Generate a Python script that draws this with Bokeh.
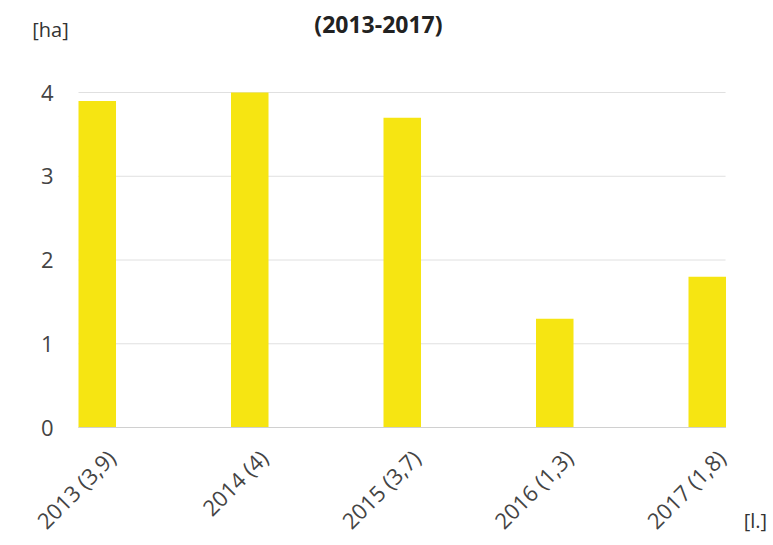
import math
from bokeh.plotting import figure
from bokeh.models import Range1d, FixedTicker, ColumnDataSource
from bokeh.core.properties import value
from bokeh.embed import file_html
from bokeh.resources import INLINE

years = [2013, 2014, 2015, 2016, 2017]
values = [3.9, 4.0, 3.7, 1.3, 1.8]
labels = [f"{y} ({('%g' % v).replace('.', ',')})" for y, v in zip(years, values)]
y_ticks = [0, 1, 2, 3, 4]
title_text = "(2013-2017)"
y_unit = "[ha]"
x_unit = "[l.]"

# plot area in data units: one category per unit, bars left-aligned in each slot
X_END = 4.243
Y_END = 4
BAR_W = 0.246
xs = [i + BAR_W / 2 for i in range(len(years))]
src = ColumnDataSource(dict(x=xs, top=values, label=labels))

W, H = 770, 543
PX_X, PX_Y = 152.5, 83.75      # pixels per data unit
LEFT, BOTTOM = 78, 427         # page position of the data origin

p = figure(frame_width=W, frame_height=H, output_backend="svg", toolbar_location=None,
           x_range=Range1d(-LEFT / PX_X, (W - LEFT) / PX_X),
           y_range=Range1d(-(H - BOTTOM) / PX_Y, BOTTOM / PX_Y),
           min_border=0)
p.outline_line_color = None
p.background_fill_color = "white"
p.border_fill_color = "white"
p.xgrid.grid_line_color = None
p.ygrid.grid_line_color = None

# horizontal gridlines limited to the plot area
p.segment(x0=[0] * len(y_ticks), x1=[X_END] * len(y_ticks), y0=y_ticks, y1=y_ticks,
          line_color="#e0e0e0", line_width=1)

p.vbar(x="x", top="top", bottom=0, width=BAR_W, source=src,
       fill_color="#F6E512", line_color=None)

# x axis (fixed at y=0)
tick_pos = [x + 0.09 for x in xs]
p.xaxis.fixed_location = 0
p.xaxis.bounds = (0, X_END)
p.xaxis.ticker = FixedTicker(ticks=tick_pos)
p.xaxis.major_label_overrides = {t: l for t, l in zip(tick_pos, labels)}
p.xaxis.major_label_orientation = math.pi / 4
p.xaxis.axis_line_color = "#d0d0d0"
p.xaxis.major_tick_line_color = None
p.xaxis.minor_tick_line_color = None
p.xaxis.major_label_text_font = "Open Sans"
p.xaxis.major_label_text_font_size = "22px"
p.xaxis.major_label_text_color = "#444444"
p.xaxis.major_label_standoff = 20

# y axis (fixed at x=0)
p.yaxis.fixed_location = 0
p.yaxis.bounds = (0, Y_END)
p.yaxis.ticker = FixedTicker(ticks=y_ticks)
p.yaxis.axis_line_color = None
p.yaxis.major_tick_line_color = None
p.yaxis.minor_tick_line_color = None
p.yaxis.major_label_text_font = "Open Sans"
p.yaxis.major_label_text_font_size = "22px"
p.yaxis.major_label_text_color = "#444444"
p.yaxis.major_label_standoff = 19

# texts around the plot
p.text(x=[-0.184], y=[4.752], text=[y_unit], text_align="center", text_baseline="middle",
       text_font=value("Open Sans"), text_font_size="20px", text_color="#333333")
p.text(x=[1.967], y=[4.812], text=[title_text], text_align="center", text_baseline="middle",
       text_font=value("Open Sans"), text_font_size="23px", text_font_style="bold",
       text_color="#222222")
p.text(x=[4.439], y=[-1.110], text=[x_unit], text_align="center", text_baseline="middle",
       text_font=value("Open Sans"), text_font_size="20px", text_color="#333333")

open("out.html", "w").write(file_html(p, INLINE))
